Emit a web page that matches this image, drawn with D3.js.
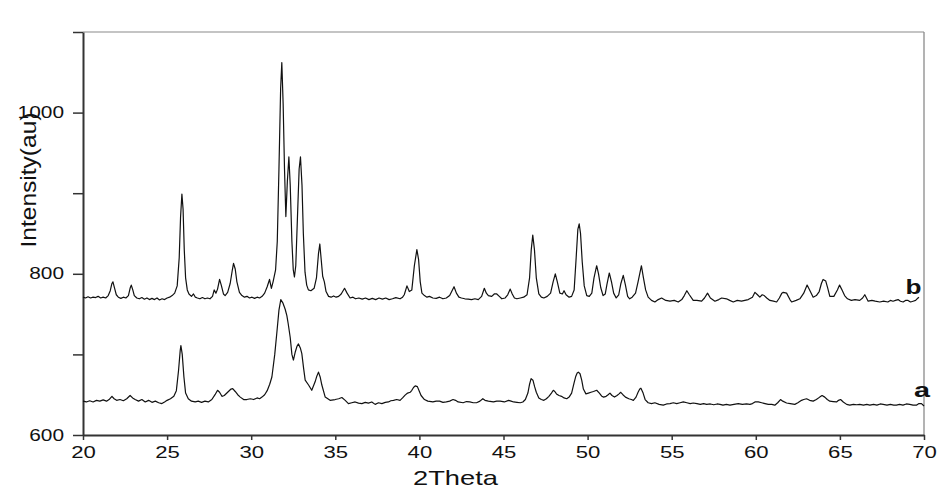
<!DOCTYPE html>
<html>
<head>
<meta charset="UTF-8">
<script src="https://d3js.org/d3.v7.min.js"></script>
<style>
    body { margin: 0; background: #fff; }
    svg { display: block; }
    text { font-family: "Liberation Sans", Arial, sans-serif; fill: #111; }
    .axis path, .axis line { stroke: #333; }
    .axis path { stroke-width: 2; }
    .axis line { stroke-width: 1.5; }
    .axis text { font-size: 16px; }
    .trace { fill: none; stroke: #111; stroke-width: 1.2; stroke-linejoin: round; }
    .curve-label { font-weight: bold; font-size: 20px; }
</style>
</head>
<body>
<svg width="950" height="504"></svg>
<script>
// tick values
const xTicks = [20, 25, 30, 35, 40, 45, 50, 55, 60, 65, 70];
const yTicks = [600, 700, 800, 900, 1000, 1100];
const yLabelled = [600, 800, 1000];

// upper pattern (b), [2theta, intensity]
const seriesB = [
[20.0,771],[20.15,770],[20.3,771.5],[20.45,770],[20.6,771],[20.75,770.5],[20.9,772],[21.05,770],[21.2,771],[21.35,770],[21.5,773],[21.62,779],[21.72,788],[21.78,790],[21.88,782],[21.98,774],[22.1,771],[22.25,769.5],[22.4,771],[22.55,770],[22.7,773],[22.8,782],[22.87,786],[22.96,780],[23.05,773],[23.2,770],[23.35,769],[23.5,770.5],[23.65,768.5],[23.8,770],[23.95,768],[24.1,769.5],[24.25,768],[24.4,770],[24.55,767.5],[24.7,769],[24.85,768],[25.0,770],[25.15,771],[25.3,773],[25.45,776],[25.6,785],[25.72,820],[25.8,870],[25.88,899],[25.95,880],[26.02,830],[26.1,795],[26.2,780],[26.3,775],[26.45,772],[26.57,775],[26.68,771],[26.8,770],[26.95,769],[27.1,770.5],[27.25,769],[27.4,770],[27.55,769],[27.7,772],[27.8,780],[27.9,776],[28.0,781],[28.12,793],[28.22,786],[28.35,775],[28.45,773],[28.6,777],[28.75,788],[28.88,805],[28.95,813],[29.05,806],[29.15,790],[29.3,777],[29.45,773],[29.6,771],[29.75,772],[29.9,770],[30.05,771],[30.2,769.5],[30.35,771],[30.5,770],[30.65,772],[30.8,776],[30.95,784],[31.09,793],[31.2,782],[31.3,790],[31.45,805],[31.55,840],[31.65,930],[31.75,1030],[31.82,1062],[31.9,1010],[31.98,930],[32.06,871],[32.15,915],[32.24,945],[32.32,910],[32.42,840],[32.5,805],[32.57,796],[32.65,810],[32.75,870],[32.85,930],[32.93,945],[33.02,910],[33.1,850],[33.2,802],[33.3,786],[33.4,780],[33.55,779],[33.74,782],[33.88,795],[34.0,825],[34.08,837],[34.16,818],[34.25,797],[34.35,790],[34.45,778],[34.6,772],[34.75,771],[34.9,772.5],[35.05,771],[35.2,772],[35.35,775],[35.55,782],[35.7,776],[35.88,770],[36.05,771],[36.2,769],[36.4,770],[36.6,768.5],[36.8,770],[37.0,768],[37.2,769.5],[37.4,768],[37.6,770],[37.8,768.5],[38.0,770],[38.2,768],[38.4,769],[38.6,770.5],[38.85,769],[39.0,771],[39.1,774],[39.26,785],[39.4,778],[39.55,780],[39.7,810],[39.85,830],[39.95,818],[40.05,790],[40.15,776],[40.3,773],[40.45,771],[40.6,772],[40.8,770],[41.0,769.5],[41.2,771],[41.4,769],[41.6,770],[41.8,773],[42.06,784],[42.2,776],[42.35,771],[42.5,770],[42.7,769],[42.9,768.5],[43.1,768],[43.3,769],[43.5,768],[43.7,772],[43.86,782],[43.98,776],[44.1,773],[44.3,772],[44.45,775],[44.6,775],[44.75,772],[44.9,769],[45.1,770],[45.25,774],[45.4,781],[45.52,775],[45.65,770],[45.8,769],[46.0,770],[46.2,771],[46.4,774],[46.55,795],[46.65,830],[46.74,848],[46.84,830],[46.95,795],[47.1,775],[47.25,771],[47.4,770],[47.6,772],[47.8,776],[47.95,790],[48.08,800],[48.2,790],[48.35,776],[48.5,775],[48.6,779],[48.72,774],[48.9,771],[49.05,772],[49.2,780],[49.32,820],[49.42,855],[49.5,862],[49.58,850],[49.68,815],[49.8,785],[49.95,773],[50.1,772],[50.25,776],[50.38,795],[50.54,810],[50.65,800],[50.78,783],[50.92,773],[51.05,775],[51.15,787],[51.29,801],[51.42,790],[51.55,776],[51.7,770],[51.85,774],[51.98,788],[52.12,798],[52.25,786],[52.38,772],[52.5,769],[52.65,771],[52.85,776],[53.0,790],[53.2,810],[53.32,795],[53.45,780],[53.6,771],[53.8,767],[54.0,765],[54.2,768],[54.4,770],[54.65,767],[54.9,766],[55.15,767],[55.39,765],[55.6,768],[55.75,773],[55.9,779],[56.05,774],[56.28,767],[56.5,767],[56.78,766],[56.95,770],[57.13,776],[57.3,770],[57.57,766],[57.8,768],[57.97,770],[58.26,769],[58.45,767],[58.66,765],[58.9,767],[59.15,766],[59.35,767],[59.55,768],[59.8,771],[59.95,777],[60.1,774],[60.24,771],[60.38,774],[60.5,773],[60.65,770],[60.84,767],[61.05,766],[61.24,765],[61.4,770],[61.55,776],[61.63,777],[61.83,776],[62.03,768],[62.13,765],[62.4,767],[62.62,769],[62.85,776],[63.05,786],[63.2,780],[63.41,771],[63.6,773],[63.77,778],[63.9,788],[64.0,793],[64.16,791],[64.28,782],[64.4,772],[64.64,772],[64.85,780],[64.98,786],[65.1,781],[65.28,773],[65.45,769],[65.68,767],[65.9,768],[66.18,767],[66.35,770],[66.48,774],[66.68,766],[66.9,767],[67.1,766],[67.37,765],[67.6,766],[67.85,765],[68.0,767],[68.16,766],[68.3,767],[68.46,768],[68.6,766],[68.76,765],[68.9,767],[69.05,767],[69.2,765],[69.35,766],[69.5,767],[69.59,769],[69.7,771]
];

// lower pattern (a)
const seriesA = [
[20.0,642],[20.2,641],[20.4,642.5],[20.6,641],[20.8,643],[21.0,642],[21.2,643.5],[21.4,642],[21.55,644],[21.72,648],[21.85,645],[22.0,643],[22.2,644],[22.4,642.5],[22.6,645],[22.8,649],[22.95,646],[23.1,644],[23.3,642],[23.5,644],[23.7,641],[23.9,643],[24.1,640.5],[24.3,642],[24.5,640],[24.69,639],[24.85,641],[25.0,643],[25.2,645],[25.4,648],[25.55,655],[25.68,680],[25.78,705],[25.82,711],[25.9,700],[26.0,672],[26.1,652],[26.26,645],[26.45,642],[26.67,641],[26.85,642],[27.05,640.5],[27.25,642],[27.45,641],[27.66,644],[27.85,650],[28.0,655.5],[28.12,653],[28.26,648],[28.4,649],[28.6,653],[28.8,657],[28.9,657.5],[29.05,654],[29.2,650],[29.35,647],[29.55,644],[29.74,644],[29.95,645],[30.15,644],[30.35,646],[30.5,645],[30.64,647],[30.8,650],[30.95,655],[31.1,663],[31.23,672],[31.4,700],[31.52,726],[31.65,755],[31.76,768],[31.88,764],[32.02,756],[32.12,748],[32.2,738],[32.32,721],[32.42,700],[32.51,693],[32.62,703],[32.72,710],[32.81,713],[32.92,708],[33.01,701],[33.12,682],[33.21,668],[33.41,662],[33.6,655.5],[33.8,666],[33.9,673],[34.0,678],[34.1,672],[34.2,662],[34.4,647],[34.69,643],[34.99,644],[35.2,645],[35.39,646.5],[35.59,643],[35.78,639],[35.98,640],[36.18,641],[36.38,639.5],[36.58,639],[36.78,640.5],[36.97,639.5],[37.17,641],[37.37,638],[37.57,640],[37.77,639],[37.97,640.5],[38.16,641],[38.3,642.5],[38.46,643],[38.65,644],[38.85,643],[39.0,646],[39.15,649.5],[39.3,652],[39.45,653],[39.55,655.5],[39.65,659],[39.75,661],[39.88,660],[40.0,654],[40.1,649],[40.3,644],[40.5,642],[40.8,641],[41.0,642],[41.2,642],[41.4,640.5],[41.6,641],[41.8,642],[42.0,644],[42.15,643],[42.3,641],[42.6,640],[42.8,641.5],[43.0,641],[43.2,640],[43.4,640],[43.6,642],[43.77,645],[43.9,643],[44.1,642],[44.4,641],[44.6,642],[44.8,642],[45.05,641],[45.3,643],[45.45,642],[45.6,641],[45.8,640.5],[46.0,640],[46.15,641],[46.3,644],[46.45,652],[46.55,663],[46.64,670],[46.75,668],[46.85,660],[46.95,653],[47.1,646],[47.25,644],[47.4,643],[47.55,645],[47.7,648],[47.85,652],[47.96,655.5],[48.05,654],[48.15,651],[48.3,649],[48.45,648],[48.6,646],[48.76,645],[48.9,647],[49.05,652],[49.2,665],[49.3,673],[49.38,677],[49.45,678],[49.55,676],[49.65,668],[49.75,657],[49.9,651],[50.05,652],[50.2,653],[50.35,654],[50.54,655.5],[50.7,652],[50.85,648],[50.95,647],[51.1,648],[51.22,650],[51.33,652],[51.45,649],[51.6,647],[51.75,649],[51.87,651],[51.97,653],[52.1,650],[52.25,647],[52.45,645],[52.6,644],[52.72,643],[52.88,647],[53.0,653],[53.1,657],[53.17,658],[53.3,652],[53.42,644],[53.6,640],[53.8,639],[54.0,640],[54.25,638],[54.5,637],[54.7,638.5],[54.9,639],[55.1,640],[55.3,639],[55.5,640],[55.69,641],[55.9,640],[56.1,639],[56.28,639.7],[56.5,639],[56.7,638],[56.9,639],[57.08,638],[57.3,638.5],[57.5,637.5],[57.7,638.5],[57.87,638],[58.05,637],[58.25,638],[58.46,637],[58.7,638],[58.96,639],[59.2,638],[59.45,638.5],[59.65,638],[59.8,639],[59.95,641],[60.15,641],[60.35,640],[60.55,639],[60.74,638],[60.95,638],[61.13,637],[61.3,640],[61.47,644],[61.6,642],[61.83,639.7],[62.05,639],[62.32,638],[62.5,640],[62.72,643],[62.85,644],[63.02,645],[63.2,643],[63.41,642],[63.6,644],[63.8,647],[63.94,649],[64.1,647],[64.25,644],[64.4,642],[64.6,641.5],[64.8,641],[64.92,643],[65.04,644],[65.2,641],[65.4,638],[65.59,637],[65.8,638],[66.0,637.5],[66.18,638],[66.4,637],[66.6,638],[66.78,637],[67.0,638],[67.2,637],[67.4,638.5],[67.57,638],[67.8,637],[68.0,638],[68.2,637],[68.36,637],[68.55,638],[68.75,637],[68.95,638.5],[69.15,638],[69.35,637],[69.55,637],[69.7,639],[69.85,639],[70.0,636]
];

// curve names and where they sit [name, 2theta of text start, intensity of baseline]
const curveNames = [["b", 68.9, 770], ["a", 69.4, 642]];

const svg = d3.select("svg"),
    margin = { top: 32, right: 26, bottom: 69, left: 83 },
    width = +svg.attr("width") - margin.left - margin.right,
    height = +svg.attr("height") - margin.top - margin.bottom,
    g = svg.append("g").attr("transform", `translate(${margin.left},${margin.top})`);

const x = d3.scaleLinear().domain([20, 70]).range([0, width]);
const y = d3.scaleLinear().domain([600, 1100]).range([height, 0]);

// frame: light top edge, grey right edge
g.append("line")
    .attr("x1", 0).attr("x2", width)
    .attr("y1", y(1100)).attr("y2", y(1100))
    .attr("stroke", "#c4c4c4").attr("stroke-width", 2);
g.append("line")
    .attr("x1", x(70)).attr("x2", x(70))
    .attr("y1", y(1100)).attr("y2", height)
    .attr("stroke", "#8a8a8a").attr("stroke-width", 1.3);

function stretch(sel, perChar) {
    sel.selectAll("text").each(function() {
        const n = this.textContent.length;
        if (n) d3.select(this).attr("textLength", n * perChar).attr("lengthAdjust", "spacingAndGlyphs");
    });
}

const xAxis = g.append("g")
    .attr("class", "axis")
    .attr("transform", `translate(0,${height})`)
    .call(d3.axisBottom(x).tickValues(xTicks).tickSize(5).tickSizeOuter(0).tickPadding(7));
stretch(xAxis, 12.3);

const yAxis = g.append("g")
    .attr("class", "axis")
    .call(d3.axisLeft(y).tickValues(yTicks).tickSize(10).tickSizeOuter(0).tickPadding(9)
        .tickFormat(d => yLabelled.includes(d) ? d : ""));
stretch(yAxis, 11.6);

const line = d3.line()
    .x(d => x(d[0]))
    .y(d => y(d[1]));

g.append("path").datum(seriesB).attr("class", "trace").attr("d", line);
g.append("path").datum(seriesA).attr("class", "trace").attr("d", line);

g.selectAll(".curve-label")
    .data(curveNames)
    .enter().append("text")
    .attr("class", "curve-label")
    .attr("x", d => x(d[1]))
    .attr("y", d => y(d[2]) - 4)
    .attr("textLength", 16)
    .attr("lengthAdjust", "spacingAndGlyphs")
    .text(d => d[0]);

// axis titles
svg.append("text")
    .attr("x", 413)
    .attr("y", 485)
    .attr("textLength", 85)
    .attr("lengthAdjust", "spacingAndGlyphs")
    .style("font-size", "21px")
    .text("2Theta");

svg.append("text")
    .attr("transform", "translate(36,180) rotate(-90)")
    .attr("text-anchor", "middle")
    .attr("textLength", 135)
    .attr("lengthAdjust", "spacingAndGlyphs")
    .style("font-size", "22px")
    .text("Intensity(au)");
</script>
</body>
</html>
